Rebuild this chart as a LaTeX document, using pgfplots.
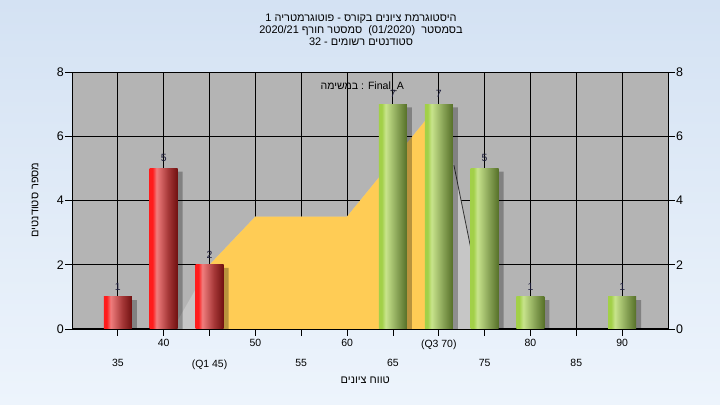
\documentclass[border=0pt]{standalone}
\usepackage{pgfplots}
\pgfplotsset{compat=1.18}
\usepackage{fontspec}
\setmainfont{Liberation Sans}
\newfontfamily\heb[Script=Hebrew]{Liberation Sans}
\TeXXeTstate=1
\definecolor{bgtop}{RGB}{212,226,243}
\definecolor{bgbot}{RGB}{237,244,252}
\definecolor{plotbg}{RGB}{180,180,180}
\definecolor{lgray}{RGB}{198,198,198}
\definecolor{yel}{RGB}{255,204,85}
\definecolor{rA}{RGB}{255,28,28}
\definecolor{rB}{RGB}{240,125,125}
\definecolor{rC}{RGB}{165,55,55}
\definecolor{rD}{RGB}{112,16,16}
\definecolor{gA}{RGB}{162,208,72}
\definecolor{gB}{RGB}{200,228,140}
\definecolor{gC}{RGB}{135,162,85}
\definecolor{gD}{RGB}{86,112,40}
\definecolor{valc}{RGB}{30,30,60}
\pgfdeclarehorizontalshading{redbar}{100bp}{color(0bp)=(rA); color(25bp)=(rA); color(30bp)=(rA); color(37bp)=(rB); color(58bp)=(rC); color(75bp)=(rD); color(100bp)=(rD)}
\pgfdeclarehorizontalshading{greenbar}{100bp}{color(0bp)=(gA); color(25bp)=(gA); color(30bp)=(gA); color(37bp)=(gB); color(58bp)=(gC); color(75bp)=(gD); color(100bp)=(gD)}
\pgfplotsset{
  redb/.style={ybar, bar width=28bp, bar shift=0bp, draw=none, shading=redbar, nodes near coords},
  greenb/.style={ybar, bar width=28bp, bar shift=0bp, draw=none, shading=greenbar, nodes near coords},
}
\begin{document}
\begin{tikzpicture}
\shade[top color=bgtop, bottom color=bgbot] (0,0) rectangle (720bp,405bp);
\node[align=center, font=\fontsize{11}{12}\selectfont] at (361bp,375bp)
 {\heb\beginR היסטוגרמת ציונים בקורס - פוטוגרמטריה 1\endR\\
  \heb\beginR בסמסטר \ \beginL(01/2020)\endL\ \ סמסטר חורף \beginL2020/21\endL\endR\\
  \heb\beginR סטודנטים רשומים - \beginL32\endL\endR};
\begin{axis}[
  at={(72bp,76bp)}, anchor=south west,
  scale only axis, width=596bp, height=257bp,
  xmin=-1, xmax=12, ymin=0, ymax=8,
  axis background/.style={fill=plotbg},
  axis line style={line width=1bp, black},
  tick style={black, line width=0.8bp},
  major tick length=7bp,
  tick align=outside,
  xtick pos=bottom, ytick pos=left,
  ytick={0,2,4,6,8},
  xtick={1,3,5,7,9,11},
  xticklabels={40,50,60,(Q3 70),80,90},
  extra x ticks={0,2,4,6,8,10},
  extra x tick labels={35,(Q1 45),55,65,75,85},
  extra x tick style={grid=major, tick label style={yshift=-20bp}},
  xmajorgrids, ymajorgrids,
  major grid style={black, line width=0.9bp},
  /pgf/number format/assume math mode=true,
  yticklabel style={font=\fontsize{12.5}{12.5}\selectfont, inner sep=1bp},
  xticklabel style={font=\fontsize{10.5}{10.5}\selectfont},
  xlabel={\heb\beginR טווח ציונים\endR},
  ylabel={\heb\beginR מספר סטודנטים\endR},
  x label style={at={(axis description cs:0.492,-0.2)}, anchor=center, font=\fontsize{11}{11}\selectfont},
  y label style={at={(axis description cs:-0.062,0.502)}, anchor=center, rotate=0, font=\fontsize{11}{11}\selectfont},
  every node near coord/.append style={font=\fontsize{10.5}{10.5}\selectfont, text=valc, yshift=3bp},
]
% light gray background area
\addplot[fill=lgray, draw=none] coordinates {(1.2,0) (2,2) (3,3.5) (5,3.5) (7,7.0) (7.33,5.1) (8,0.4) (8,0)} -- cycle;
% yellow quartile area
\addplot[fill=yel, draw=none] coordinates {(2,0) (2,2) (3,3.5) (5,3.5) (7,7.0) (7,0)} -- cycle;
% dark edge line
\addplot[color=black!80, line width=0.8bp] coordinates {(7.33,5.1) (8,0.4)};
% shadows
\addplot[ybar, bar width=28bp, bar shift=5bp, draw=none, fill=black, fill opacity=0.28] coordinates {(0,0.9) (1,4.9) (2,1.9) (6,6.9) (7,6.9) (8,4.9) (9,0.9) (11,0.9)};
% red bars
\addplot[redb] coordinates {(0,1)};
\addplot[redb] coordinates {(1,5)};
\addplot[redb] coordinates {(2,2)};
% green bars
\addplot[greenb] coordinates {(6,7)};
\addplot[greenb] coordinates {(7,7)};
\addplot[greenb] coordinates {(8,5)};
\addplot[greenb] coordinates {(9,1)};
\addplot[greenb] coordinates {(11,1)};
\node[font=\fontsize{10.6}{10.6}\selectfont] at (axis cs:5.33,7.55) {\heb\beginR במשימה\endR{} : Final\_A};
\end{axis}
\begin{axis}[
  at={(72bp,76bp)}, anchor=south west,
  scale only axis, width=596bp, height=257bp,
  xmin=-1, xmax=12, ymin=0, ymax=8,
  axis x line=none, axis y line*=right,
  axis line style={line width=1bp, black},
  tick style={black, line width=0.8bp},
  major tick length=7bp,
  tick align=outside,
  ytick={0,2,4,6,8},
  /pgf/number format/assume math mode=true,
  yticklabel style={font=\fontsize{12.5}{12.5}\selectfont, inner sep=1bp},
]
\end{axis}
\end{tikzpicture}
\end{document}
